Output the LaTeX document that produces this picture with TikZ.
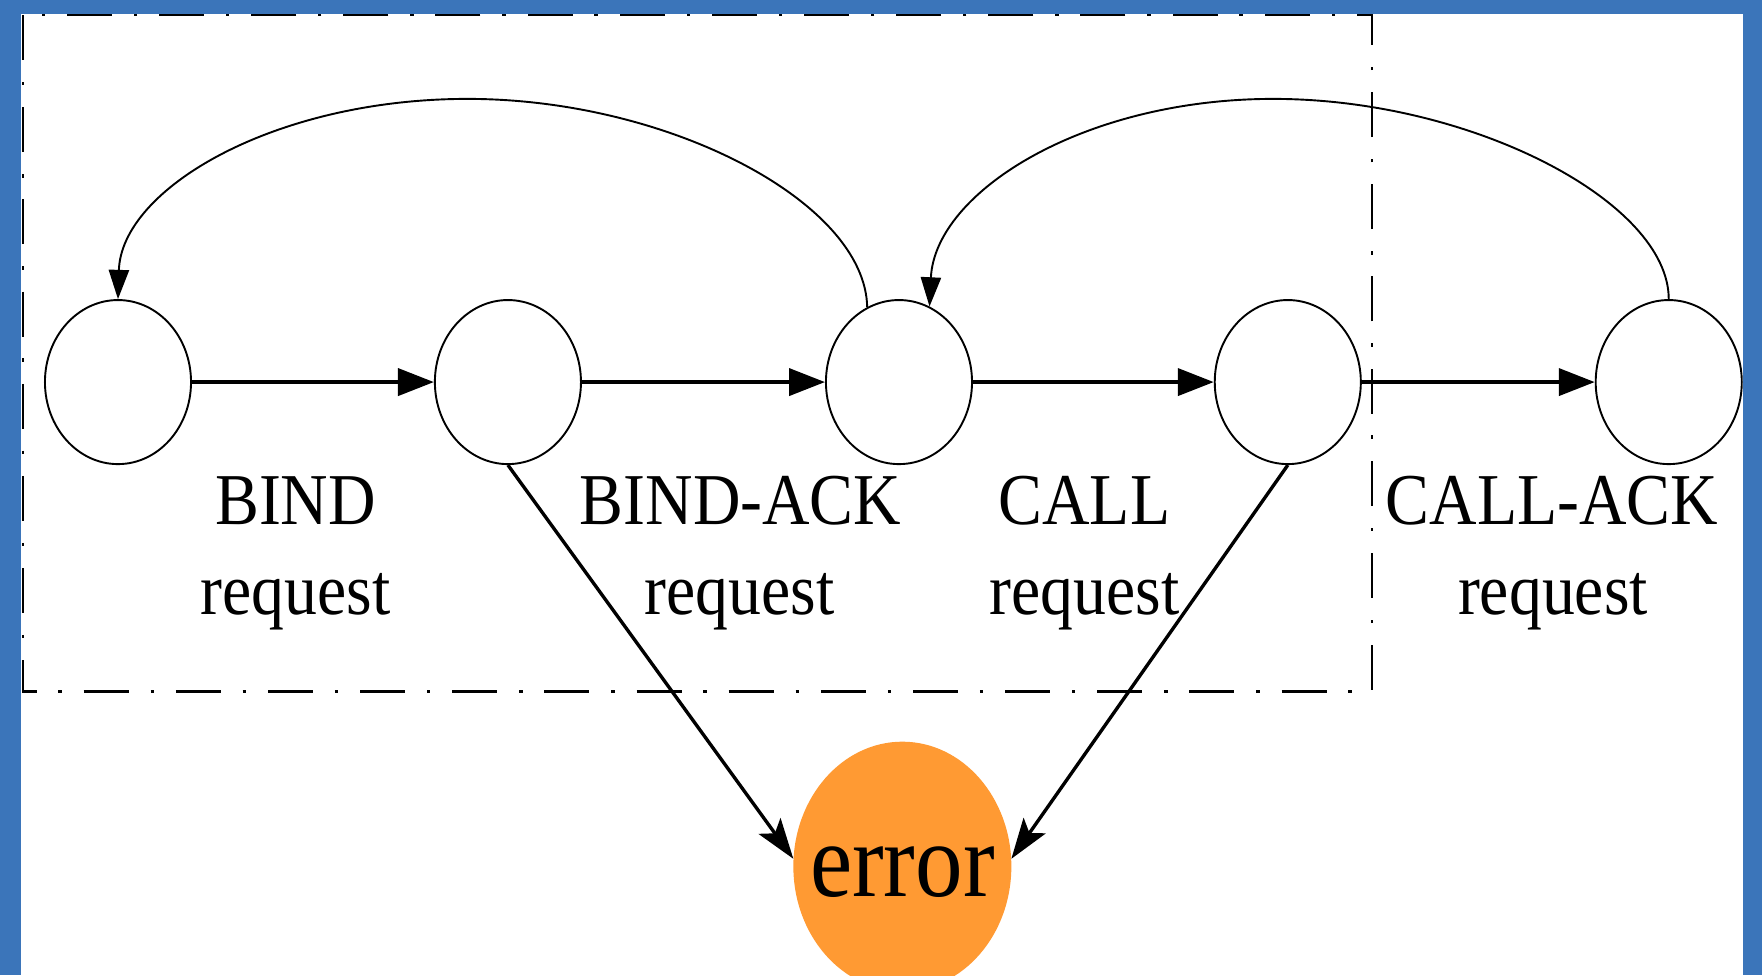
\documentclass[tikz,border=0pt]{standalone}
\usepackage{fontspec}
\newfontfamily\lblfont{Liberation Serif}[FakeStretch=0.9]
\usetikzlibrary{arrows.meta,shapes.geometric}
\definecolor{frameblue}{RGB}{59,117,186}
\definecolor{errorange}{RGB}{255,154,51}
\begin{document}
\begin{tikzpicture}[x=1pt,y=-1pt,
  state/.style={ellipse,draw,line width=1.7pt,minimum width=130pt,minimum height=146pt,inner sep=0pt},
  errnode/.style={ellipse,fill=errorange,minimum width=194pt,minimum height=222pt,inner sep=0pt,
    text height=53pt,text depth=0pt,font=\lblfont\fontsize{94}{100}\selectfont},
  lbl/.style={anchor=base,inner sep=0pt,font=\lblfont\fontsize{65}{80}\selectfont},
  fwd/.style={line width=3.6pt,-{Triangle[length=32pt,width=24pt]}},
  back/.style={line width=1.7pt,-{Triangle[length=26pt,width=18pt]}},
  toerr/.style={line width=3pt,-{Stealth[length=36pt,width=24pt,inset=8pt]}},
  box/.style={line width=2.2pt,dash pattern=on 40pt off 19.5pt on 3pt off 19.5pt}]
\useasboundingbox (0,0) rectangle (1568,868);
\clip (0,0) rectangle (1568,868);
\fill[frameblue] (0,0) rectangle (1568,868);
\fill[white] (19,12.5) rectangle (1551,880);
\draw[box] (20.5,13.5) rectangle (1221,615.5);
% states
\node[state] (s1) at (105,340) {};
\node[state] (s2) at (452,340) {};
\node[state] (s3) at (800,340) {};
\node[state] (s4) at (1146,340) {};
\node[state] (s5) at (1485,340) {};
\node[errnode] (err) at (803,771) {\makebox[0pt]{error}};
% labels
\node[lbl] (l1a) at (263,467) {BIND};
\node[lbl] (l1b) at (263,547) {request};
\node[lbl] (l2a) at (659,467) {BIND-ACK};
\node[lbl] (l2b) at (658,547) {request};
\node[lbl] (l3a) at (965,467) {CALL};
\node[lbl] (l3b) at (965,547) {request};
\node[lbl] (l4a) at (1381,467) {CALL-ACK};
\node[lbl] (l4b) at (1382,547) {request};
% forward arrows
\draw[fwd] (s1.east) -- (s2.west);
\draw[fwd] (s2.east) -- (s3.west);
\draw[fwd] (s3.east) -- (s4.west);
\draw[fwd] (s4.east) -- (s5.west);
% back arrows
\draw[back] (s3.113) .. controls (770,180) and (595,88) .. (416,88)
  .. controls (244,88) and (108,168) .. (s1.north);
\draw[back] (s5.north) .. controls (1485,180) and (1310,88) .. (1133,88)
  .. controls (964,88) and (832,171) .. (s3.68);
% error arrows
\draw[toerr] (s2.south) -- (err.176);
\draw[toerr] (s4.south) -- (err.4);
\end{tikzpicture}
\end{document}
